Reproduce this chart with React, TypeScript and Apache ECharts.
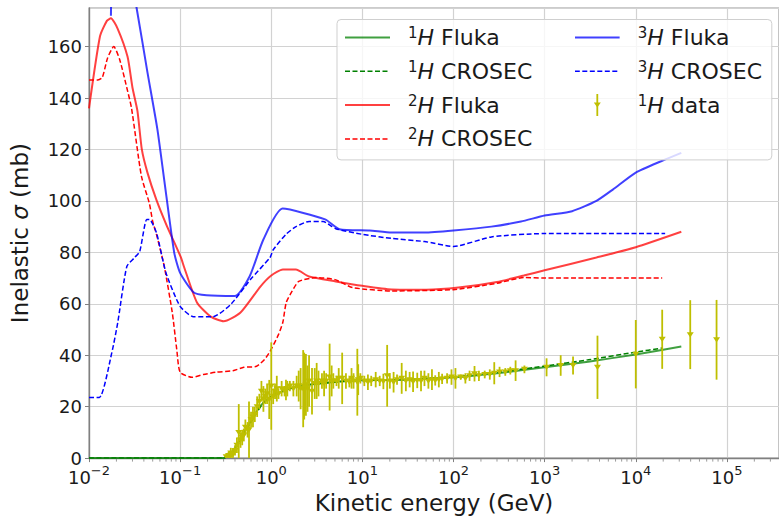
import React, { useEffect, useRef } from 'react';
import * as echarts from 'echarts';

// ---------- data ----------
const h1FlukaE = [0.01, 0.1, 0.3, 0.35, 0.4, 0.44, 0.5, 0.6, 0.7, 0.82, 1.0, 1.34, 1.95, 3, 6.3, 10, 30, 100, 300, 1000, 3000, 10000, 31600];
const h1FlukaV = [0, 0, 0, 1.5, 4, 6.6, 10, 14.5, 18.5, 21.5, 24, 26, 27.8, 28.8, 30, 30.3, 30.5, 31.4, 33, 35.3, 37.5, 40.3, 43.4];

const h1CrosecE = [0.01, 0.1, 0.3, 0.35, 0.4, 0.44, 0.5, 0.6, 0.7, 0.82, 1.0, 1.34, 1.95, 3, 6.3, 10, 30, 100, 300, 1000, 3000, 10000, 19500];
const h1CrosecV = [0, 0, 0, 1.2, 3.5, 6, 9.5, 14, 18, 21.5, 24, 26.2, 27.9, 28.8, 29.8, 30.2, 30.6, 31.6, 33.3, 35.8, 38.2, 41.2, 42.8];

const h2FlukaE = [0.01, 0.0132, 0.0157, 0.0174, 0.0206, 0.0265, 0.03, 0.034, 0.038, 0.0438, 0.0548, 0.072, 0.086, 0.102, 0.11, 0.153, 0.217, 0.3, 0.46, 0.76, 1.0, 1.34, 1.86, 2.6, 5.1, 10, 21, 50, 113, 300, 590, 1000, 3700, 10000, 31600];
const h2FlukaV = [136, 164, 170, 171, 167, 156, 144, 135, 120, 111, 100.5, 90, 84, 78, 74.5, 60.5, 55, 53.2, 56.6, 66.7, 71, 73.3, 73.3, 70.6, 68.7, 67, 65.6, 65.5, 66.3, 68.5, 71, 73, 78, 82, 88];

const h2CrosecE = [0.01, 0.0125, 0.014, 0.016, 0.0187, 0.0217, 0.026, 0.0293, 0.0376, 0.046, 0.05, 0.055, 0.067, 0.082, 0.092, 0.1, 0.135, 0.18, 0.25, 0.38, 0.5, 0.69, 0.85, 0.97, 1.2, 1.34, 1.46, 1.7, 2.0, 3.1, 5, 7.8, 21, 100, 300, 590, 1000, 19500];
const h2CrosecV = [147, 147, 148, 155.6, 160, 155, 144, 136, 109.6, 99, 92, 87, 74.5, 56.6, 42, 33.4, 31.4, 32.5, 33.4, 34, 35.3, 35.7, 38.5, 41.5, 48, 52.8, 60.5, 65, 68.7, 70.2, 69.4, 66.3, 65, 65.5, 68, 70.2, 70, 70];

const h3FlukaE = [0.0174, 0.019, 0.025, 0.0333, 0.0438, 0.0562, 0.067, 0.086, 0.1, 0.14, 0.195, 0.4, 0.58, 0.82, 1.33, 3.9, 5.6, 12, 21, 48, 100, 260, 550, 1000, 2000, 3700, 5600, 10000, 19500, 31600];
const h3FlukaV = [172, 200, 198, 175, 150, 128, 108, 80, 72, 64.5, 63.3, 63, 70.7, 85, 97, 92.8, 89, 88.5, 87.7, 87.7, 88.5, 90, 92, 94.3, 96, 100, 104.4, 111, 115.6, 118.7];

const h3CrosecE = [0.01, 0.013, 0.0178, 0.0207, 0.026, 0.0317, 0.036, 0.043, 0.046, 0.055, 0.07, 0.1, 0.14, 0.23, 0.36, 0.59, 0.97, 1.05, 1.45, 1.87, 2.6, 3.7, 5.1, 10, 21, 48, 100, 260, 980, 21000];
const h3CrosecV = [23.6, 23.6, 41, 52.8, 74.5, 78, 80.3, 92.8, 92.8, 87.6, 72, 59, 55, 55, 59.8, 69.4, 78, 81, 87, 90, 92, 92, 89.2, 87, 85.4, 84.2, 82.3, 86, 87.3, 87.3];

const dataE = [0.32, 0.34, 0.35, 0.36, 0.38, 0.40, 0.42, 0.44, 0.46, 0.48, 0.50, 0.52, 0.55, 0.57, 0.60, 0.63, 0.66, 0.70, 0.74, 0.78, 0.82, 0.86, 0.90, 0.95, 1.0, 1.05, 1.1, 1.15, 1.2, 1.3, 1.4, 1.45, 1.5, 1.6, 1.75, 1.9, 2.0, 2.1, 2.24, 2.3, 2.4, 2.5, 2.6, 2.8, 3.0, 3.15, 3.3, 3.6, 3.8, 4.0, 4.37, 4.6, 4.8, 5.2, 5.5, 6.0, 6.6, 7.2, 7.6, 8.0, 8.8, 9.0, 9.5, 10.5, 11.5, 12.5, 14, 15.5, 17, 18.7, 20, 22, 24, 27, 30, 33, 36, 40, 44, 48, 53, 58, 63, 69, 75, 85, 95, 105, 120, 135, 150, 170, 190, 220, 250, 280, 320, 370, 420, 480, 600, 1050, 1500, 2050, 3800, 10000, 19500, 39600, 77000];
const dataV = [0.5, 1, 0.3, 2, 1.5, 3, 5, 10, 7, 8, 9, 12, 11, 11, 15, 16, 17, 20, 22, 26, 23, 24, 25, 22.8, 28, 24, 26, 27, 25, 27, 26, 26.5, 27, 28, 27, 28, 28, 27, 27, 28, 28.5, 27, 30, 26, 29, 30, 29, 30, 29, 30, 31.5, 30, 30, 30, 31, 31, 30, 29.5, 31, 30, 29.5, 30.5, 31, 30, 29.5, 30, 30.5, 30, 29.8, 32, 30, 29.5, 30.5, 31, 30, 30.5, 29.7, 30.2, 30, 31, 30, 30.5, 30.2, 30.5, 30.8, 31, 31.5, 31, 31.5, 31, 32, 32.8, 32, 32.5, 32.5, 33, 33.5, 33.5, 34, 34, 34.5, 35.3, 36, 36, 35.3, 40.4, 46.2, 48, 46];
const dataErr = [1, 1.5, 1, 2, 2, 2, 3, 11, 3, 3, 2.5, 3, 3, 11, 3, 4, 3, 4, 3, 4, 5, 3, 4, 7.6, 17, 3, 3, 5, 2, 3, 2, 4, 3, 2, 3, 4, 6, 8, 15, 13, 12, 9, 10, 9, 6, 7, 5, 3, 5, 3, 13, 6, 3, 2, 4, 10, 3, 2, 4, 3, 13, 6, 2, 2, 3, 2, 3, 2, 3, 12, 3, 4, 2, 6, 4, 3, 4, 3, 4, 3, 3, 4, 2, 3, 2, 2, 3, 4, 1, 2, 2, 3, 2, 1.5, 2, 4.3, 2, 1.5, 1.5, 4, 1.5, 3.5, 4, 3.5, 12.3, 13.3, 11.5, 13.4, 15.5];

const xMajorTicks = [0.01, 0.1, 1, 10, 100, 1000, 10000, 100000];
const yTickValues = [0, 20, 40, 60, 80, 100, 120, 140, 160];
const legendNames = ['¹H Fluka', '¹H CROSEC', '²H Fluka', '²H CROSEC', '³H Fluka', '³H CROSEC', '¹H data'];

// ---------- styling ----------
const FONT = 'DejaVu Sans';
const GREEN = '#008000';
const RED = '#ff0000';
const BLUE = '#0000ff';
const OLIVE = '#bfbf00';
const X_MIN = 0.01;
const X_MAX = 373000;
const SOLID_OPACITY = 0.75;
const DASH = [5, 2.5];

const pairs = (xs: number[], ys: number[]) => xs.map((x, i) => [x, ys[i]]);

const supMap: Record<string, string> = { '¹': '1', '²': '2', '³': '3' };

const svgIcon = (inner: string) =>
  'image://data:image/svg+xml;charset=utf-8,' +
  encodeURIComponent('<svg xmlns="http://www.w3.org/2000/svg" width="45" height="24" viewBox="0 0 45 24">' + inner + '</svg>');

const lineIcon = (color: string, dashed: boolean) =>
  svgIcon(
    dashed
      ? '<line x1="0" y1="12" x2="45" y2="12" stroke="' + color + '" stroke-width="1.5" stroke-dasharray="' + DASH.join(' ') + '"/>'
      : '<line x1="0" y1="12" x2="45" y2="12" stroke="' + color + '" stroke-width="2" stroke-opacity="' + SOLID_OPACITY + '"/>'
  );

const dataIcon = svgIcon(
  '<line x1="22.5" y1="1" x2="22.5" y2="23" stroke="' + OLIVE + '" stroke-width="1.8"/>' +
    '<polygon points="19,9.5 26,9.5 22.5,14.5" fill="' + OLIVE + '"/>'
);

const legendIcons: Record<string, string> = {
  '¹H Fluka': lineIcon(GREEN, false),
  '¹H CROSEC': lineIcon(GREEN, true),
  '²H Fluka': lineIcon(RED, false),
  '²H CROSEC': lineIcon(RED, true),
  '³H Fluka': lineIcon(BLUE, false),
  '³H CROSEC': lineIcon(BLUE, true),
  '¹H data': dataIcon,
};

function lineSeries(name: string, xs: number[], ys: number[], color: string, dashed: boolean) {
  return {
    name,
    type: 'line',
    data: pairs(xs, ys),
    symbol: 'none',
    showSymbol: false,
    smooth: 0.2,
    clip: true,
    lineStyle: dashed
      ? { color, width: 1.5, type: DASH, opacity: 1 }
      : { color, width: 2, type: 'solid', opacity: SOLID_OPACITY },
    itemStyle: { color },
    z: 3,
  };
}

export default function App() {
  const ref = useRef<HTMLDivElement>(null);

  useEffect(() => {
    if (!ref.current) return;
    const chart = echarts.init(ref.current, null, { renderer: 'svg' });

    const minorTicks: number[][] = [];
    xMajorTicks.forEach((d) => {
      for (let k = 2; k <= 9; k++) {
        const v = d * k;
        if (v < X_MAX) minorTicks.push([v, 0]);
      }
    });

    const option: any = {
      animation: false,
      backgroundColor: '#ffffff',
      textStyle: { fontFamily: FONT },
      grid: {
        left: 84,
        right: -2,
        top: 8,
        bottom: 60,
        show: true,
        borderColor: '#9a9a9a',
        borderWidth: 1.2,
        backgroundColor: 'transparent',
      },
      xAxis: {
        type: 'log',
        logBase: 10,
        min: X_MIN,
        max: X_MAX,
        name: 'Kinetic energy (GeV)',
        nameLocation: 'middle',
        nameGap: 29,
        nameTextStyle: { fontFamily: FONT, fontSize: 23, color: '#1a1a1a' },
        axisLine: { show: true, lineStyle: { color: '#808080', width: 1.3 } },
        axisTick: { show: true, length: 4, lineStyle: { color: '#808080' } },
        splitLine: { show: true, lineStyle: { color: '#d2d2d2', width: 1.2 } },
        axisLabel: {
          margin: 6,
          color: '#1a1a1a',
          fontFamily: FONT,
          fontSize: 18,
          showMaxLabel: false,
          formatter: (v: number) => {
            const e = Math.round(Math.log10(v));
            if (!xMajorTicks.some((t) => Math.abs(t - v) / t < 1e-6)) return '';
            const es = e < 0 ? '\u2212' + Math.abs(e) : String(e);
            return '{b|10}{s|' + es + '}';
          },
          rich: {
            b: { fontFamily: FONT, fontSize: 18, color: '#1a1a1a', lineHeight: 22, verticalAlign: 'bottom' },
            s: { fontFamily: FONT, fontSize: 13, color: '#1a1a1a', lineHeight: 22, verticalAlign: 'top' },
          },
        },
      },
      yAxis: {
        type: 'value',
        min: 0,
        max: 175,
        interval: 20,
        name: 'Inelastic {it|σ} (mb)',
        nameLocation: 'middle',
        nameGap: 58,
        nameRotate: 90,
        nameTextStyle: {
          fontFamily: FONT,
          fontSize: 23,
          color: '#1a1a1a',
          rich: { it: { fontFamily: FONT, fontSize: 23, fontStyle: 'italic', color: '#1a1a1a' } },
        },
        axisLine: { show: true, lineStyle: { color: '#808080', width: 1.3 } },
        axisTick: { show: true, length: 4, lineStyle: { color: '#808080' } },
        splitLine: { show: true, lineStyle: { color: '#d2d2d2', width: 1.2 } },
        axisLabel: {
          margin: 7,
          color: '#1a1a1a',
          fontFamily: FONT,
          fontSize: 18,
          showMaxLabel: false,
          formatter: (v: number) => (yTickValues.indexOf(v) >= 0 ? String(v) : ''),
        },
      },
      legend: {
        orient: 'vertical',
        left: 337,
        top: 19.5,
        height: 130,
        itemWidth: 45,
        itemHeight: 24,
        itemGap: 9.8,
        padding: [6, 9, 9, 8],
        backgroundColor: 'rgba(255,255,255,0.8)',
        borderColor: '#cfcfcf',
        borderWidth: 1,
        borderRadius: 4,
        selectedMode: false,
        textStyle: {
          fontFamily: FONT,
          fontSize: 22,
          color: '#1a1a1a',
          lineHeight: 24,
          padding: [0, 0, 0, 13],
          rich: {
            sup: { fontFamily: FONT, fontSize: 15, lineHeight: 14, verticalAlign: 'top', color: '#1a1a1a' },
            it: { fontFamily: FONT, fontSize: 22, fontStyle: 'italic', lineHeight: 24, color: '#1a1a1a' },
            t: { fontFamily: FONT, fontSize: 22, lineHeight: 24, color: '#1a1a1a' },
          },
        },
        formatter: (name: string) => {
          const s = supMap[name.charAt(0)] || '';
          return '{sup|' + s + '}{it|H}{t|' + name.slice(2) + '}';
        },
        data: legendNames.map((n, i) => ({
          name: n,
          icon: legendIcons[n],
          textStyle: { width: i < 4 ? 157 : 125 },
        })),
      },
      series: [
        lineSeries('¹H Fluka', h1FlukaE, h1FlukaV, GREEN, false),
        lineSeries('¹H CROSEC', h1CrosecE, h1CrosecV, GREEN, true),
        lineSeries('²H Fluka', h2FlukaE, h2FlukaV, RED, false),
        lineSeries('²H CROSEC', h2CrosecE, h2CrosecV, RED, true),
        lineSeries('³H Fluka', h3FlukaE, h3FlukaV, BLUE, false),
        lineSeries('³H CROSEC', h3CrosecE, h3CrosecV, BLUE, true),
        {
          name: '¹H data',
          type: 'custom',
          clip: true,
          z: 4,
          itemStyle: { color: OLIVE },
          encode: { x: 0, y: 1 },
          data: dataE.map((e, i) => [e, dataV[i], dataErr[i]]),
          renderItem: (params: any, api: any) => {
            const x = api.value(0);
            const y = api.value(1);
            const err = api.value(2);
            const c = api.coord([x, y]);
            const top = api.coord([x, y + err]);
            const bot = api.coord([x, Math.max(y - err, -2)]);
            return {
              type: 'group',
              children: [
                {
                  type: 'line',
                  shape: { x1: c[0], y1: top[1], x2: c[0], y2: bot[1] },
                  style: { stroke: OLIVE, lineWidth: 1.8 },
                },
                {
                  type: 'polygon',
                  shape: { points: [[c[0] - 3.5, c[1] - 2.5], [c[0] + 3.5, c[1] - 2.5], [c[0], c[1] + 2.8]] },
                  style: { fill: OLIVE },
                },
              ],
            };
          },
        },
        {
          name: 'minorTicks',
          type: 'custom',
          silent: true,
          clip: false,
          data: minorTicks,
          renderItem: (params: any, api: any) => {
            const c = api.coord([api.value(0), 0]);
            return {
              type: 'line',
              shape: { x1: c[0], y1: c[1] + 1, x2: c[0], y2: c[1] + 3.5 },
              style: { stroke: '#808080', lineWidth: 0.8 },
            };
          },
        },
      ],
    };

    chart.setOption(option);
    return () => chart.dispose();
  }, []);

  return (
    <div
      ref={ref}
      style={{ position: 'absolute', left: 0, top: 0, width: 779, height: 519, background: '#ffffff' }}
    />
  );
}
